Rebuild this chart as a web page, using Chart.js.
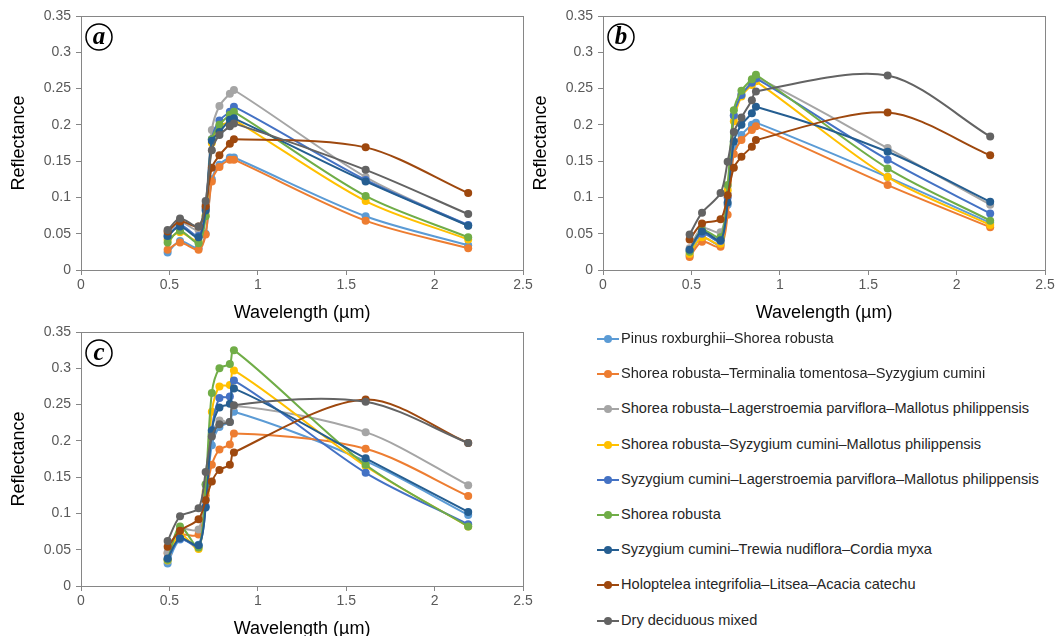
<!DOCTYPE html>
<html>
<head>
<meta charset="utf-8">
<script src="https://cdn.jsdelivr.net/npm/chart.js@4"></script>
<style>
  body { margin: 0; background: #fff; width: 1058px; height: 636px; overflow: hidden; position: relative;
         font-family: "Liberation Sans", Arial, sans-serif; }
  canvas { position: absolute; }
  #legend { position: absolute; left: 597px; top: 0; }
  .item { position: absolute; left: 0; height: 20px; white-space: nowrap; font-size: 14.6px; color: #262626; }
  .mark { position: absolute; left: 0; top: 9px; width: 22px; height: 2px; }
  .dot { position: absolute; left: 7px; top: 6px; width: 8px; height: 8px; border-radius: 50%; }
  .label { position: absolute; left: 24px; top: 1px; }
</style>
</head>
<body>
<canvas id="ca" width="536" height="330" style="left:0;top:0"></canvas>
<canvas id="cb" width="536" height="330" style="left:522px;top:0"></canvas>
<canvas id="cc" width="536" height="330" style="left:0;top:316px"></canvas>
<div id="legend"></div>
<script>
// Sentinel-2 band centres (µm)
const wavelengths = [0.49, 0.56, 0.665, 0.705, 0.74, 0.783, 0.842, 0.865, 1.61, 2.19];

const seriesNames = [
  "Pinus roxburghii–Shorea robusta",
  "Shorea robusta–Terminalia tomentosa–Syzygium cumini",
  "Shorea robusta–Lagerstroemia parviflora–Mallotus philippensis",
  "Shorea robusta–Syzygium cumini–Mallotus philippensis",
  "Syzygium cumini–Lagerstroemia parviflora–Mallotus philippensis",
  "Shorea robusta",
  "Syzygium cumini–Trewia nudiflora–Cordia myxa",
  "Holoptelea integrifolia–Litsea–Acacia catechu",
  "Dry deciduous mixed"
];
const seriesColors = ['#5B9BD5', '#ED7D31', '#A5A5A5', '#FFC000', '#4472C4', '#70AD47', '#255E91', '#9E480E', '#636363'];

const xTickValues = [0, 0.5, 1, 1.5, 2, 2.5];
const xTickLabels = ['0', '0.5', '1', '1.5', '2', '2.5'];
const yTickValues = [0, 0.05, 0.1, 0.15, 0.2, 0.25, 0.3, 0.35];
const yTickLabels = ['0', '0.05', '0.1', '0.15', '0.2', '0.25', '0.3', '0.35'];

// reflectance per series, one row per series in seriesNames order
const panelA = [
  [0.024, 0.040, 0.030, 0.050, 0.125, 0.145, 0.155, 0.155, 0.074, 0.034],
  [0.028, 0.038, 0.028, 0.049, 0.122, 0.142, 0.152, 0.152, 0.068, 0.030],
  [0.050, 0.066, 0.055, 0.090, 0.193, 0.226, 0.243, 0.248, 0.128, 0.061],
  [0.042, 0.052, 0.040, 0.075, 0.175, 0.198, 0.204, 0.207, 0.095, 0.042],
  [0.046, 0.062, 0.047, 0.085, 0.180, 0.206, 0.218, 0.225, 0.124, 0.062],
  [0.038, 0.054, 0.037, 0.074, 0.180, 0.200, 0.214, 0.218, 0.102, 0.045],
  [0.047, 0.060, 0.045, 0.082, 0.178, 0.190, 0.207, 0.209, 0.122, 0.061],
  [0.053, 0.067, 0.060, 0.088, 0.141, 0.158, 0.174, 0.180, 0.169, 0.106],
  [0.055, 0.071, 0.060, 0.095, 0.165, 0.186, 0.198, 0.202, 0.138, 0.077]
];
const panelB = [
  [0.020, 0.045, 0.035, 0.090, 0.170, 0.186, 0.200, 0.203, 0.128, 0.065],
  [0.018, 0.039, 0.032, 0.076, 0.160, 0.179, 0.193, 0.198, 0.117, 0.059],
  [0.030, 0.058, 0.052, 0.105, 0.213, 0.241, 0.260, 0.266, 0.168, 0.090],
  [0.022, 0.045, 0.036, 0.110, 0.205, 0.239, 0.255, 0.260, 0.128, 0.062],
  [0.027, 0.050, 0.040, 0.100, 0.213, 0.241, 0.258, 0.264, 0.152, 0.078],
  [0.025, 0.055, 0.045, 0.117, 0.220, 0.247, 0.263, 0.269, 0.140, 0.068],
  [0.028, 0.053, 0.041, 0.093, 0.177, 0.200, 0.216, 0.225, 0.163, 0.094],
  [0.042, 0.064, 0.070, 0.103, 0.141, 0.156, 0.170, 0.179, 0.217, 0.158],
  [0.049, 0.079, 0.106, 0.149, 0.190, 0.210, 0.234, 0.246, 0.268, 0.184]
];
const panelC = [
  [0.031, 0.064, 0.057, 0.120, 0.194, 0.219, 0.226, 0.240, 0.172, 0.098],
  [0.045, 0.070, 0.071, 0.125, 0.167, 0.188, 0.195, 0.210, 0.189, 0.124],
  [0.046, 0.078, 0.078, 0.140, 0.208, 0.228, 0.226, 0.248, 0.212, 0.139],
  [0.035, 0.072, 0.051, 0.130, 0.240, 0.275, 0.277, 0.297, 0.165, 0.082],
  [0.037, 0.065, 0.055, 0.110, 0.215, 0.259, 0.261, 0.283, 0.156, 0.085],
  [0.036, 0.082, 0.053, 0.140, 0.266, 0.300, 0.306, 0.325, 0.167, 0.082],
  [0.038, 0.066, 0.056, 0.108, 0.214, 0.246, 0.251, 0.272, 0.176, 0.102],
  [0.054, 0.076, 0.092, 0.118, 0.144, 0.160, 0.167, 0.184, 0.257, 0.197],
  [0.062, 0.096, 0.107, 0.157, 0.206, 0.223, 0.226, 0.249, 0.254, 0.197]
];

const axisGrey = '#868686';

// frame round the plot area plus the circled panel letter
const framePlugin = {
  id: 'frame',
  beforeDatasetsDraw(chart) {
    const {ctx, chartArea: a} = chart;
    ctx.save();
    ctx.strokeStyle = axisGrey;
    ctx.lineWidth = 1;
    ctx.strokeRect(a.left + 0.5, a.top + 0.5, a.right - a.left, a.bottom - a.top);
    ctx.restore();
  },
  afterDraw(chart, args, opts) {
    const {ctx, chartArea: a} = chart;
    const cx = a.left + 18, cy = a.top + 21;
    ctx.save();
    ctx.fillStyle = '#fff';
    ctx.beginPath();
    ctx.arc(cx, cy, 13, 0, Math.PI * 2);
    ctx.fill();
    ctx.lineWidth = 1.5;
    ctx.strokeStyle = '#000';
    ctx.stroke();
    ctx.fillStyle = '#000';
    ctx.font = 'italic bold 25px "Liberation Serif"';
    ctx.textAlign = 'center';
    ctx.textBaseline = 'middle';
    ctx.fillText(opts.letter, cx, cy + 1);
    ctx.restore();
  }
};

function makePanel(id, letter, values) {
  const datasets = values.map((row, i) => ({
    label: seriesNames[i],
    data: row.map((v, j) => ({x: wavelengths[j], y: v})),
    borderColor: seriesColors[i],
    backgroundColor: seriesColors[i],
    pointBackgroundColor: seriesColors[i],
    pointBorderWidth: 0,
    pointRadius: 4,
    borderWidth: 2,
    tension: 0.3,
    order: values.length - i
  }));
  new Chart(document.getElementById(id), {
    type: 'line',
    data: {datasets: datasets},
    plugins: [framePlugin],
    options: {
      responsive: false,
      animation: false,
      layout: {padding: {top: 16, right: 13, left: 0, bottom: 0}},
      plugins: {legend: {display: false}, tooltip: {enabled: false}, frame: {letter: letter}},
      scales: {
        x: {
          type: 'linear', min: 0, max: 2.5,
          afterBuildTicks: s => { s.ticks = xTickValues.map(v => ({value: v})); },
          afterFit: s => { s.height = 60; s.paddingLeft = 0; s.paddingRight = 0; },
          grid: {drawOnChartArea: false, drawTicks: true, tickLength: 5, color: axisGrey},
          border: {color: axisGrey},
          ticks: {
            padding: 2, color: '#595959', font: {family: 'Liberation Sans', size: 14},
            maxRotation: 0,
            callback: v => xTickLabels[xTickValues.indexOf(v)]
          },
          title: {display: true, text: 'Wavelength (µm)', color: '#000',
                  font: {family: 'Liberation Sans', size: 18}, padding: {top: 0, bottom: 6}}
        },
        y: {
          type: 'linear', min: 0, max: 0.35,
          afterBuildTicks: s => { s.ticks = yTickValues.map(v => ({value: v})); },
          afterFit: s => { s.width = 81; s.paddingTop = 0; s.paddingBottom = 0; },
          grid: {drawOnChartArea: false, drawTicks: true, tickLength: 5, color: axisGrey},
          border: {color: axisGrey},
          ticks: {
            padding: 5, color: '#595959', font: {family: 'Liberation Sans', size: 14},
            callback: v => yTickLabels[yTickValues.indexOf(v)]
          },
          title: {display: true, text: 'Reflectance', color: '#000',
                  font: {family: 'Liberation Sans', size: 18}, padding: {top: 8, bottom: 0}}
        }
      }
    }
  });
}

makePanel('ca', 'a', panelA);
makePanel('cb', 'b', panelB);
makePanel('cc', 'c', panelC);

// legend
const legend = document.getElementById('legend');
seriesNames.forEach((name, i) => {
  const item = document.createElement('div');
  item.className = 'item';
  item.style.top = (329 + i * 35.2) + 'px';
  item.innerHTML = '<span class="mark" style="background:' + seriesColors[i] + '"></span>' +
    '<span class="dot" style="background:' + seriesColors[i] + '"></span>' +
    '<span class="label">' + name + '</span>';
  legend.appendChild(item);
});
</script>
</body>
</html>
